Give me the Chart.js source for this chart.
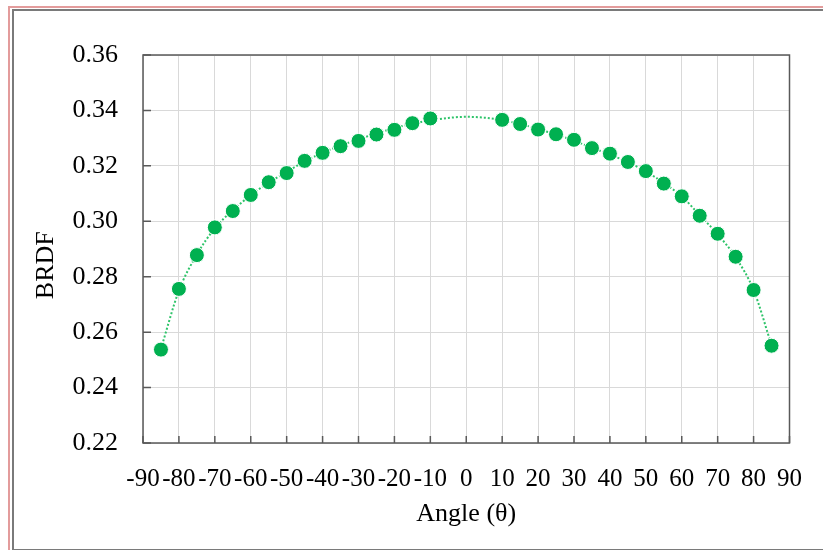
<!DOCTYPE html>
<html>
<head>
<meta charset="utf-8">
<script src="https://cdn.jsdelivr.net/npm/chart.js@4/dist/chart.umd.min.js"></script>
<style>
    html, body { margin: 0; padding: 0; background: #ffffff; overflow: hidden; }
    #wrap { position: relative; width: 823px; height: 550px; overflow: hidden; }
    /* moldura rosa e cinza do print original (sem lado direito) */
    .pink { position: absolute; left: 8px; top: 6px; width: 2000px; height: 600px;
            border-left: 2px solid #e39c9c; border-top: 2px solid #e39c9c; }
    .gray { position: absolute; left: 12px; top: 9px; width: 2000px; height: 538px;
            border-left: 2px solid #7a7a7a; border-top: 2px solid #7a7a7a;
            border-bottom: 2px solid #7a7a7a; }
    canvas { position: absolute; left: 0; top: 0; }
</style>
</head>
<body>
<div id="wrap">
    <div class="pink"></div>
    <div class="gray"></div>
    <canvas id="chart" width="823" height="550"></canvas>
</div>
<script>
const angles = [-85, -80, -75, -70, -65, -60, -55, -50, -45, -40, -35, -30, -25, -20, -15, -10,
                10, 15, 20, 25, 30, 35, 40, 45, 50, 55, 60, 65, 70, 75, 80, 85];
const brdf = [0.2537, 0.2756, 0.2878, 0.2978, 0.3037, 0.3095, 0.3141, 0.3174, 0.3218, 0.3247,
              0.3271, 0.3290, 0.3313, 0.3330, 0.3354, 0.3371,
              0.3366, 0.3351, 0.3331, 0.3314, 0.3294, 0.3264, 0.3244, 0.3214, 0.3181, 0.3136,
              0.3090, 0.3020, 0.2955, 0.2872, 0.2752, 0.2551];

const trendAngles = [-85, -80, -75, -70, -65, -60, -55, -50, -45, -40, -35, -30, -25, -20, -15, -10,
                     -5, 0, 5, 10, 15, 20, 25, 30, 35, 40, 45, 50, 55, 60, 65, 70, 75, 80, 85];
const trendValues = [0.2540, 0.2750, 0.2880, 0.2975, 0.3040, 0.3094, 0.3140, 0.3178, 0.3216, 0.3247,
                     0.3273, 0.3296, 0.3317, 0.3336, 0.3352, 0.3364, 0.3373, 0.3377, 0.3374,
                     0.3365, 0.3351, 0.3333, 0.3313, 0.3291, 0.3265, 0.3241, 0.3213, 0.3180,
                     0.3138, 0.3090, 0.3022, 0.2953, 0.2870, 0.2752, 0.2553];

const xTicks = [-90, -80, -70, -60, -50, -40, -30, -20, -10, 0, 10, 20, 30, 40, 50, 60, 70, 80, 90];
const yTicks = [0.22, 0.24, 0.26, 0.28, 0.30, 0.32, 0.34, 0.36];

const POINT_COLOR = '#00b050';
const TREND_COLOR = '#2fc46a';
const FONT = '"Liberation Serif", "Times New Roman", serif';

// Caixa da área do gráfico e marcas de escala internas (estilo Excel)
const plotFrame = {
    id: 'plotFrame',
    beforeDatasetsDraw(chart) {
        const { ctx, chartArea: a, scales: { x, y } } = chart;
        ctx.save();
        ctx.strokeStyle = '#595959';
        ctx.lineWidth = 1.5;
        ctx.strokeRect(a.left, a.top, a.right - a.left, a.bottom - a.top);
        ctx.beginPath();
        xTicks.forEach(v => {
            const px = x.getPixelForValue(v);
            ctx.moveTo(px, a.bottom);
            ctx.lineTo(px, a.bottom - 7);
        });
        yTicks.forEach(v => {
            const py = y.getPixelForValue(v);
            ctx.moveTo(a.left, py);
            ctx.lineTo(a.left + 8, py);
        });
        ctx.stroke();
        ctx.restore();
    }
};

new Chart(document.getElementById('chart'), {
    type: 'scatter',
    data: {
        datasets: [
            {
                label: 'BRDF',
                data: angles.map((a, i) => ({ x: a, y: brdf[i] })),
                backgroundColor: POINT_COLOR,
                borderColor: '#ffffff',
                borderWidth: 1,
                pointRadius: 7.5,
                order: 0
            },
            {
                label: 'Tendência',
                data: trendAngles.map((a, i) => ({ x: a, y: trendValues[i] })),
                showLine: true,
                borderColor: TREND_COLOR,
                borderWidth: 2,
                borderDash: [2, 2],
                pointRadius: 0,
                cubicInterpolationMode: 'monotone',
                order: 1
            }
        ]
    },
    options: {
        responsive: false,
        animation: false,
        layout: {
            padding: { top: 55, right: 29, bottom: 20, left: 0 }
        },
        plugins: {
            legend: { display: false },
            tooltip: { enabled: false }
        },
        scales: {
            x: {
                type: 'linear',
                min: -90,
                max: 90,
                afterFit: s => { s.height = 87; },
                afterBuildTicks: s => { s.ticks = xTicks.map(v => ({ value: v })); },
                grid: { color: '#d9d9d9', lineWidth: 1, drawTicks: false },
                border: { display: false },
                ticks: {
                    autoSkip: false,
                    maxRotation: 0,
                    minRotation: 0,
                    padding: 21,
                    color: '#000000',
                    font: { family: FONT, size: 25 }
                },
                title: {
                    display: true,
                    text: 'Angle (θ)',
                    color: '#000000',
                    font: { family: FONT, size: 26 },
                    padding: { top: 0, bottom: 0 }
                }
            },
            y: {
                min: 0.22,
                max: 0.36,
                afterFit: s => { s.width = 143; },
                afterBuildTicks: s => { s.ticks = yTicks.map(v => ({ value: v })); },
                grid: { color: '#d9d9d9', lineWidth: 1, drawTicks: false },
                border: { display: false },
                ticks: {
                    padding: 25,
                    color: '#000000',
                    font: { family: FONT, size: 26 },
                    callback: v => v.toFixed(2)
                },
                title: {
                    display: true,
                    // espaços finais descem o título um pouco, como no original
                    text: 'BRDF     ',
                    color: '#000000',
                    font: { family: FONT, size: 26 },
                    padding: { top: 31, bottom: 0 }
                }
            }
        }
    },
    plugins: [plotFrame]
});
</script>
</body>
</html>
